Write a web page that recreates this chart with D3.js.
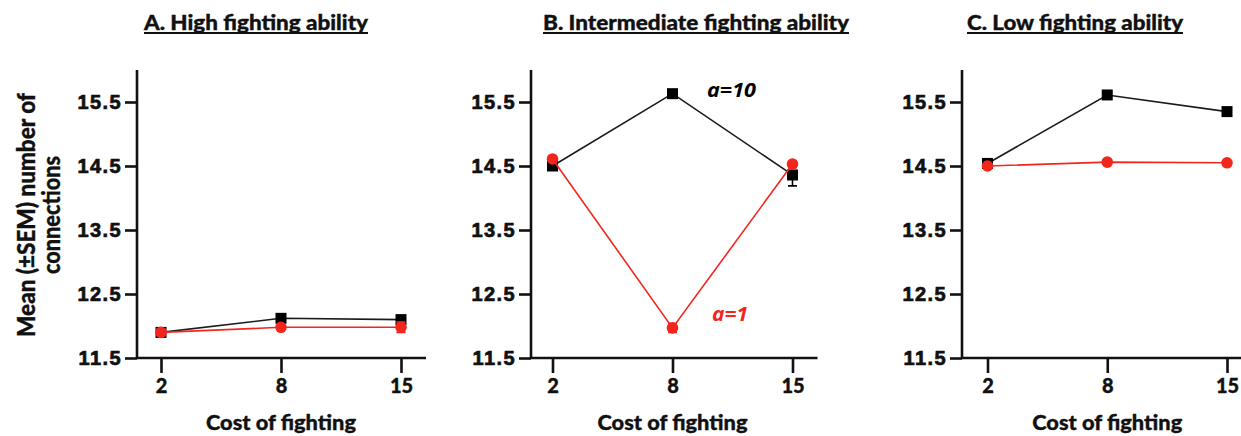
<!DOCTYPE html>
<html>
<head>
<meta charset="utf-8">
<script src="https://cdn.jsdelivr.net/npm/d3@7"></script>
<style>
  html, body { margin: 0; padding: 0; background: #fff; }
  svg { display: block; }
</style>
</head>
<body>
<svg id="chart" width="1241" height="436"></svg>
<script>
// ---- data ----
const costs = ["2", "8", "15"];
const panelTitles = ["A. High fighting ability", "B. Intermediate fighting ability", "C. Low fighting ability"];
const yTicks = [11.5, 12.5, 13.5, 14.5, 15.5];

// a = 10 (black squares)
const highA = [11.90, 12.12, 12.10];
const highB = [14.50, 15.63, 14.36];
const highC = [14.54, 15.61, 15.35];
const highSemA = [0.06, 0.03, 0.03];
const highSemB = [0.04, 0.03, 0.17];
const highSemC = [0.03, 0.03, 0.03];

// a = 1 (red circles)
const lowA = [11.90, 11.98, 11.98];
const lowB = [14.61, 11.97, 14.53];
const lowC = [14.50, 14.56, 14.55];
const lowSemA = [0.05, 0.03, 0.08];
const lowSemB = [0.04, 0.07, 0.04];
const lowSemC = [0.03, 0.03, 0.03];

const seriesNames = ["a=10", "a=1"];

// ---- layout ----
const RED = "#f2261c";
const BLACK = "#000";
const INK = "#111";
const yTop = 70, yBottom = 358;
const panels = [
  { axisX: 137, first: 161, last: 401, titleX: 256, titleW: 224,
    high: highA, highSem: highSemA, low: lowA, lowSem: lowSemA },
  { axisX: 531, first: 552.5, last: 792.5, titleX: 696, titleW: 306,
    high: highB, highSem: highSemB, low: lowB, lowSem: lowSemB, labels: true },
  { axisX: 962, first: 987.5, last: 1227, titleX: 1075, titleW: 216,
    high: highC, highSem: highSemC, low: lowC, lowSem: lowSemC }
];

const svg = d3.select("#chart");
const y = d3.scaleLinear().domain([11.5, 16]).range([yBottom, yTop]);

// heavy sans text helper
function heavy(sel, size) {
  return sel.attr("font-family", "Lato, 'Open Sans', sans-serif")
    .attr("font-weight", 900).attr("font-size", size)
    .attr("fill", INK).attr("stroke", INK).attr("stroke-width", 0.35);
}

panels.forEach((p, i) => {
  const x = d3.scalePoint().domain(costs).range([p.first, p.last]);
  const g = svg.append("g");

  // title with underline
  heavy(g.append("text"), 20)
    .attr("x", p.titleX).attr("y", 30)
    .attr("text-anchor", "middle")
    .attr("textLength", p.titleW).attr("lengthAdjust", "spacingAndGlyphs")
    .text(panelTitles[i]);
  g.append("line")
    .attr("x1", p.titleX - p.titleW / 2).attr("x2", p.titleX + p.titleW / 2)
    .attr("y1", 33).attr("y2", 33)
    .attr("stroke", INK).attr("stroke-width", 1.8);

  // y axis
  const yAxis = g.append("g")
    .attr("transform", `translate(${p.axisX},0)`)
    .call(d3.axisLeft(y).tickValues(yTicks).tickFormat(d3.format(".1f")).tickSize(12).tickPadding(3));
  yAxis.select(".domain").attr("d", `M0,${yTop}V${yBottom}`);

  // x axis
  const xAxis = g.append("g")
    .attr("transform", `translate(0,${yBottom})`)
    .call(d3.axisBottom(x).tickSize(15).tickPadding(6));
  xAxis.select(".domain").attr("d", `M${p.axisX},0H${p.last + 25}`);

  [yAxis, xAxis].forEach(ax => {
    ax.selectAll(".domain, .tick line").attr("stroke", INK).attr("stroke-width", 2.6);
  });
  yAxis.selectAll(".tick text")
    .attr("font-family", "'Liberation Sans', Arial, sans-serif")
    .attr("font-weight", "bold").attr("font-size", 20)
    .attr("letter-spacing", 1.4).attr("fill", INK)
    .attr("stroke", INK).attr("stroke-width", 0.7);
  heavy(xAxis.selectAll(".tick text"), 20);

  // x axis title
  heavy(g.append("text"), 21)
    .attr("x", x("8")).attr("y", 430)
    .attr("text-anchor", "middle")
    .attr("textLength", 150).attr("lengthAdjust", "spacingAndGlyphs")
    .text("Cost of fighting");

  const line = d3.line().x((d, j) => x(costs[j])).y(d => y(d));
  const errPath = (cx, v, s) =>
    `M${cx},${y(v - s)}V${y(v + s)}M${cx - 4.5},${y(v - s)}H${cx + 4.5}M${cx - 4.5},${y(v + s)}H${cx + 4.5}`;

  // series a=10 (black squares), drawn first
  const hs = g.append("g");
  hs.append("path").datum(p.high).attr("d", line)
    .attr("fill", "none").attr("stroke", "#1a1a1a").attr("stroke-width", 1.6);
  p.high.forEach((v, j) => {
    hs.append("path").attr("d", errPath(x(costs[j]), v, p.highSem[j]))
      .attr("stroke", BLACK).attr("stroke-width", 1.6).attr("fill", "none");
  });
  hs.selectAll("rect").data(p.high).join("rect")
    .attr("x", (d, j) => x(costs[j]) - 5.5).attr("y", d => y(d) - 5.5)
    .attr("width", 11).attr("height", 11).attr("fill", BLACK);

  // series a=1 (red circles)
  const ls = g.append("g");
  ls.append("path").datum(p.low).attr("d", line)
    .attr("fill", "none").attr("stroke", RED).attr("stroke-width", 1.6);
  p.low.forEach((v, j) => {
    ls.append("path").attr("d", errPath(x(costs[j]), v, p.lowSem[j]))
      .attr("stroke", RED).attr("stroke-width", 1.6).attr("fill", "none");
  });
  ls.selectAll("circle").data(p.low).join("circle")
    .attr("cx", (d, j) => x(costs[j])).attr("cy", d => y(d))
    .attr("r", 5.8).attr("fill", RED);

  // series labels
  if (p.labels) {
    g.append("text")
      .attr("x", 707).attr("y", 96.5)
      .attr("font-family", "'Open Sans', sans-serif")
      .attr("font-weight", "bold").attr("font-style", "italic").attr("font-size", 19)
      .attr("textLength", 49).attr("lengthAdjust", "spacingAndGlyphs")
      .attr("fill", BLACK).text(seriesNames[0]);
    g.append("text")
      .attr("x", 712).attr("y", 321)
      .attr("font-family", "'Open Sans', sans-serif")
      .attr("font-weight", "bold").attr("font-style", "italic").attr("font-size", 19)
      .attr("textLength", 36).attr("lengthAdjust", "spacingAndGlyphs")
      .attr("fill", RED).text(seriesNames[1]);
  }
});

// shared y axis title (two lines, rotated)
const yLab = svg.append("g").attr("transform", "translate(0,215) rotate(-90)");
heavy(yLab.append("text"), 25)
  .attr("x", 0).attr("y", 35)
  .attr("text-anchor", "middle")
  .attr("textLength", 244).attr("lengthAdjust", "spacingAndGlyphs")
  .text("Mean (±SEM) number of");
heavy(yLab.append("text"), 25)
  .attr("x", 0).attr("y", 60)
  .attr("text-anchor", "middle")
  .attr("textLength", 118).attr("lengthAdjust", "spacingAndGlyphs")
  .text("connections");
</script>
</body>
</html>
